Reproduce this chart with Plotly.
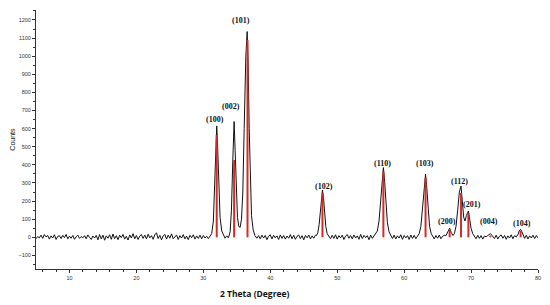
import plotly.graph_objects as go

# ---- measured XRD profile (2 theta in degrees, counts) ----
two_theta = [
    5.0, 5.25, 5.5, 5.75, 6.0, 6.25, 6.5, 6.75, 7.0, 7.25, 7.5, 7.75, 8.0, 8.25, 8.5, 8.75,
    9.0, 9.25, 9.5, 9.75, 10.0, 10.25, 10.5, 10.75, 11.0, 11.25, 11.5, 11.75, 12.0, 12.25, 12.5, 12.75,
    13.0, 13.25, 13.5, 13.75, 14.0, 14.25, 14.5, 14.75, 15.0, 15.25, 15.5, 15.75, 16.0, 16.25, 16.5, 16.75,
    17.0, 17.25, 17.5, 17.75, 18.0, 18.25, 18.5, 18.75, 19.0, 19.25, 19.5, 19.75, 20.0, 20.25, 20.5, 20.75,
    21.0, 21.25, 21.5, 21.75, 22.0, 22.25, 22.5, 22.75, 23.0, 23.25, 23.5, 23.75, 24.0, 24.25, 24.5, 24.75,
    25.0, 25.25, 25.5, 25.75, 26.0, 26.25, 26.5, 26.75, 27.0, 27.25, 27.5, 27.75, 28.0, 28.25, 28.5, 28.75,
    29.0, 29.25, 29.5, 29.75, 30.0, 30.25, 30.5, 30.75,
    31.0, 31.25, 31.5, 31.7, 31.85, 32.0, 32.1, 32.25, 32.5, 32.75, 33.0, 33.25, 33.5, 33.75,
    34.0, 34.2, 34.4, 34.6, 34.75, 34.9, 35.1, 35.3, 35.5, 35.7, 35.9, 36.1, 36.35, 36.55, 36.7, 36.85,
    37.0, 37.2, 37.45, 37.7, 38.0,
    38.25, 38.5, 38.75, 39.0, 39.25, 39.5, 39.75, 40.0, 40.25, 40.5, 40.75, 41.0, 41.25, 41.5, 41.75,
    42.0, 42.25, 42.5, 42.75, 43.0, 43.25, 43.5, 43.75, 44.0, 44.25, 44.5, 44.75, 45.0, 45.25, 45.5, 45.75,
    46.0, 46.25, 46.5, 46.75,
    46.9, 47.1, 47.3, 47.5, 47.65, 47.8, 47.95, 48.1, 48.3, 48.5, 48.75,
    49.0, 49.25, 49.5, 49.75, 50.0, 50.25, 50.5, 50.75, 51.0, 51.25, 51.5, 51.75, 52.0, 52.25, 52.5, 52.75,
    53.0, 53.25, 53.5, 53.75, 54.0, 54.25, 54.5, 54.75, 55.0, 55.25, 55.5,
    55.75, 56.0, 56.25, 56.5, 56.7, 56.9, 57.05, 57.25, 57.5, 57.75, 58.0,
    58.25, 58.5, 58.75, 59.0, 59.25, 59.5, 59.75, 60.0, 60.25, 60.5, 60.75, 61.0, 61.25, 61.5, 61.75, 62.0,
    62.25, 62.5, 62.75, 63.0, 63.2, 63.35, 63.55, 63.8, 64.05, 64.3,
    64.5, 64.75, 65.0, 65.25, 65.5, 65.75, 66.0,
    66.25, 66.5, 66.8, 67.05, 67.3, 67.5, 67.75, 68.0, 68.25, 68.5, 68.7, 68.9, 69.1, 69.3, 69.6, 69.8,
    70.0, 70.25, 70.5,
    70.75, 71.0, 71.25, 71.5, 71.75, 72.0, 72.25,
    72.5, 72.75, 72.9, 73.1, 73.3,
    73.5, 73.75, 74.0, 74.25, 74.5, 74.75, 75.0, 75.25, 75.5, 75.75, 76.0, 76.25, 76.5, 76.75,
    77.0, 77.2, 77.4, 77.6, 77.8,
    78.0, 78.25, 78.5, 78.75, 79.0, 79.25, 79.5, 79.75, 80.0,
]
counts = [
    -8, 4, -3, 12, -6, 15, 2, 10, -10, 8, -4, 14, -12, 5, 9, -7,
    11, -2, 16, -9, 6, -5, 10, -11, 3, 12, -6, 4, -3, 9, -8, 13,
    -1, -12, 7, -4, 10, -14, 15, -9, 12, -16, 8, -5, 14, -11, 18, -7,
    9, -13, 11, -2, 16, -10, 6, -15, 13, -4, 20, -8, 10, -12, 7, 15,
    -6, 12, -9, 17, -3, 9, -11, 14, 25, -7, 11, -14, 8, 16, -10, 12,
    -5, 19, -8, 6, 13, -12, 9, -4, 15, -9, 7, -13, 11, -2, 14, -10,
    8, -6, 12, -8, 10, -4, 6, -7,
    5, 20, 90, 300, 520, 615, 540, 330, 110, 35, 10, -5, 8, -3,
    30, 150, 420, 639, 480, 250, 110, 60, 55, 100, 250, 600, 1000, 1136, 950, 600,
    300, 120, 40, 10, -5,
    9, -8, 12, -4, 10, -13, 6, 14, -9, 11, -3, 8, -12, 13, -6,
    10, -10, 7, -5, 15, -8, 11, -11, 6, 12, -7, 9, -14, 10, -3, 13,
    -9, 8, -5, 12,
    10, 25, 70, 160, 230, 261, 220, 140, 60, 20, 5,
    -8, 11, -6, 14, -10, 9, -3, 12, -12, 7, 15, -5, 10, -9, 13, -4,
    8, -11, 16, -7, 11, -2, 9, -13, 12, -6, 8,
    15, 35, 90, 200, 330, 385, 330, 200, 80, 30, 10,
    -7, 12, -9, 8, -4, 14, -11, 10, -3, 9, -12, 13, -6, 11, -8, 7,
    20, 60, 160, 300, 348, 290, 160, 60, 20, 5,
    -9, 10, -5, 12, -8, 6, 11,
    10, 25, 50, 25, 10, 20, 60, 150, 250, 283, 200, 110, 90, 120, 145, 100,
    50, 20, 5,
    -8, 11, -6, 9, -10, 7, 3,
    10, 18, 20, 12, 0,
    -7, 12, -9, 6, 13, -5, 10, -11, 8, -4, 14, -8, 9, 2,
    15, 35, 44, 30, 10,
    -6, 11, -9, 8, -4, 12, -7, 10, -3,
]

# ---- reference pattern sticks (red) ----
ref_pos = [32.0, 34.6, 36.6, 47.8, 56.9, 63.2, 66.8, 68.5, 69.6, 72.9, 77.4]
ref_int = [565, 427, 1090, 245, 362, 328, 44, 245, 134, 10, 36]

# ---- reflection labels ----
hkl_text = ["(100)", "(002)", "(101)", "(102)", "(110)", "(103)",
            "(200)", "(112)", "(201)", "(004)", "(104)"]
hkl_x = [31.8, 34.2, 35.7, 48.1, 56.7, 63.1, 66.4, 68.2, 70.1, 72.7, 77.6]
hkl_y = [653, 720, 1195, 283, 410, 410, 85, 306, 179, 85, 79]

fig = go.Figure()
fig.add_trace(go.Scatter(x=two_theta, y=counts, mode="lines",
                         line=dict(color="#111111", width=1), showlegend=False,
                         hoverinfo="skip"))

sx, sy = [], []
for p, h in zip(ref_pos, ref_int):
    sx += [p, p, None]
    sy += [0, h, None]
fig.add_trace(go.Scatter(x=sx, y=sy, mode="lines",
                         line=dict(color="#d42a2a", width=2), showlegend=False,
                         hoverinfo="skip"))

for t, x, y in zip(hkl_text, hkl_x, hkl_y):
    fig.add_annotation(x=x, y=y, text="<b>" + t + "</b>", showarrow=False,
                       font=dict(family="Liberation Serif", size=8, color="#111111"),
                       xanchor="center", yanchor="middle")

fig.add_annotation(xref="paper", yref="paper", x=0.4356, y=-0.093,
                   text="<b>2 Theta (Degree)</b>", showarrow=False,
                   font=dict(family="Open Sans", size=8.5, color="#111111"),
                   xanchor="center", yanchor="middle")
fig.add_annotation(xref="paper", yref="paper", x=-0.0475, y=0.50,
                   text="Counts", textangle=-90, showarrow=False,
                   font=dict(family="Liberation Sans", size=7, color="#111111"),
                   xanchor="center", yanchor="middle")

axis_common = dict(showline=True, linecolor="#333333", linewidth=1,
                   ticks="outside", ticklen=3, tickwidth=1, tickcolor="#333333",
                   showgrid=False, zeroline=False,
                   tickfont=dict(family="Liberation Sans", size=5.5, color="#333333"))

fig.update_layout(
    width=550, height=305,
    margin=dict(l=36, r=9, t=10, b=36),
    paper_bgcolor="white", plot_bgcolor="white",
    xaxis=dict(range=[5, 80], dtick=10, tick0=0,
               minor=dict(dtick=2, ticks="outside", ticklen=2, tickcolor="#333333"),
               **axis_common),
    yaxis=dict(range=[-175, 1255], dtick=100, tick0=0,
               minor=dict(dtick=50, ticks="outside", ticklen=2, tickcolor="#333333"),
               **axis_common),
)

fig.write_html("out.html")
